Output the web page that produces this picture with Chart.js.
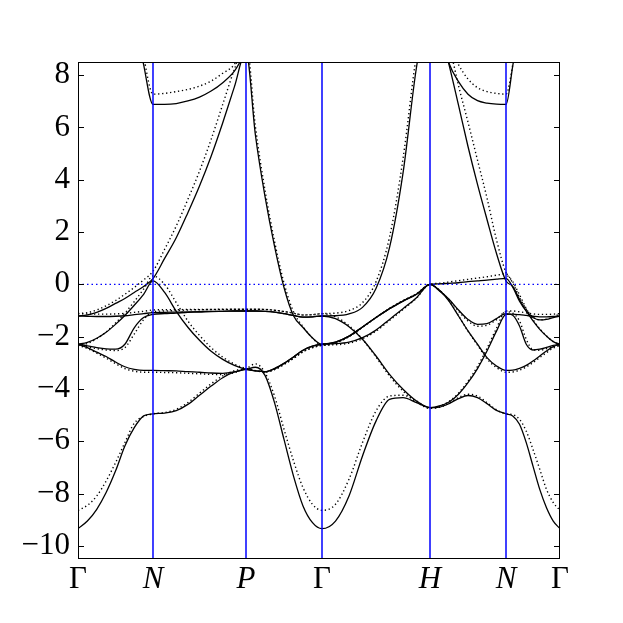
<!DOCTYPE html>
<html>
<head>
<meta charset="utf-8">
<script src="https://cdn.jsdelivr.net/npm/chart.js@4.4.1/dist/chart.umd.min.js"></script>
<style>
  html, body { margin: 0; padding: 0; background: #fff; }
  #bands { display: block; }
</style>
</head>
<body>
<canvas id="bands" width="623" height="623"></canvas>
<script>
// high-symmetry points along the path (distance units) and their labels
const kPoints = [0, 0.6944, 1.5556, 2.2593, 3.2593, 3.9630, 4.4630];
const kLabels = ['Γ', 'N', 'P', 'Γ', 'H', 'N', 'Γ'];
const yTicks = [-10, -8, -6, -4, -2, 0, 2, 4, 6, 8];
const samplesPerSegment = 8;

// energies, one row of 9 samples per path segment
// solid bands
const solid1 = [
  [-9.34, -9.05, -8.60, -7.96, -7.14, -6.18, -5.48, -5.03, -4.95],
  [-4.95, -4.92, -4.83, -4.59, -4.24, -3.89, -3.57, -3.35, -3.25],
  [-3.25, -3.17, -3.48, -4.52, -5.93, -7.33, -8.47, -9.11, -9.34],
  [-9.34, -9.05, -8.09, -6.56, -5.23, -4.40, -4.33, -4.52, -4.71],
  [-4.71, -4.69, -4.56, -4.37, -4.25, -4.33, -4.56, -4.82, -4.95],
  [-4.95, -5.03, -5.35, -6.05, -6.95, -7.84, -8.54, -9.05, -9.34]
];
const solid2 = [
  [-2.29, -2.42, -2.59, -2.76, -2.97, -3.15, -3.25, -3.29, -3.29],
  [-3.29, -3.30, -3.31, -3.34, -3.36, -3.39, -3.40, -3.35, -3.25],
  [-3.25, -3.31, -3.34, -3.22, -3.02, -2.78, -2.52, -2.36, -2.29],
  [-2.29, -2.27, -2.21, -2.04, -1.75, -1.34, -0.93, -0.51, 0.00],
  [0.00, -0.23, -0.64, -1.21, -1.78, -2.29, -2.80, -3.12, -3.29],
  [-3.29, -3.28, -3.21, -3.10, -2.93, -2.74, -2.55, -2.38, -2.29]
];
const solid3 = [
  [-2.29, -2.35, -2.42, -2.47, -2.48, -2.29, -1.66, -1.27, -1.15],
  [-1.15, -1.12, -1.10, -1.07, -1.06, -1.04, -1.03, -1.02, -1.02],
  [-1.02, -1.02, -1.03, -1.06, -1.12, -1.19, -1.25, -1.24, -1.21],
  [-1.21, -1.31, -1.62, -2.10, -2.74, -3.44, -4.01, -4.46, -4.71],
  [-4.71, -4.65, -4.50, -4.20, -3.76, -3.22, -2.55, -1.79, -1.15],
  [-1.15, -1.14, -1.16, -1.19, -1.22, -1.24, -1.24, -1.23, -1.21]
];
const solid4 = [
  [-1.21, -1.22, -1.23, -1.23, -1.22, -1.20, -1.16, -1.12, -1.08],
  [-1.08, -1.07, -1.06, -1.05, -1.04, -1.03, -1.03, -1.02, -1.02],
  [-1.02, -1.02, -1.03, -1.06, -1.12, -1.19, -1.25, -1.24, -1.21],
  [-1.21, -1.20, -1.13, -0.88, -0.16, 1.40, 4.25, 8.30, 10.8],
  [10.8, 9.80, 8.40, 6.85, 5.27, 3.82, 2.48, 1.18, 0.13],
  [0.13, -0.08, -0.57, -1.02, -1.40, -1.72, -1.98, -2.19, -2.29]
];
const solid5 = [
  [-2.29, -2.22, -2.06, -1.83, -1.53, -1.19, -0.80, -0.38, 0.13],
  [0.13, -0.31, -1.03, -1.64, -2.14, -2.56, -2.87, -3.10, -3.25],
  [-3.25, -3.31, -3.34, -3.22, -3.02, -2.78, -2.52, -2.36, -2.29],
  [-2.29, -2.21, -1.98, -1.63, -1.27, -0.93, -0.64, -0.38, 0.00],
  [0.00, -0.25, -0.57, -0.98, -1.34, -1.53, -1.50, -1.31, -1.12],
  [-1.12, -1.18, -1.59, -2.29, -2.51, -2.48, -2.41, -2.33, -2.29]
];
const solid6 = [
  [-1.21, -1.17, -1.07, -0.92, -0.73, -0.54, -0.31, -0.08, 0.22],
  [0.22, 0.99, 1.78, 2.74, 3.76, 4.90, 6.18, 7.55, 8.90],
  [8.90, 5.68, 3.36, 1.46, -0.12, -1.20, -1.65, -2.05, -2.29],
  [-2.29, -2.21, -1.98, -1.63, -1.27, -0.93, -0.64, -0.38, 0.00],
  [0.00, 0.02, 0.04, 0.06, 0.10, 0.13, 0.16, 0.20, 0.23],
  [0.23, -0.11, -0.64, -1.02, -1.27, -1.36, -1.34, -1.27, -1.21]
];
const solid7 = [
  [16.0, 15.5, 15.0, 14.0, 13.0, 11.8, 10.3, 8.40, 6.88],
  [6.88, 6.88, 6.91, 7.01, 7.16, 7.39, 7.71, 8.15, 8.90],
  [8.90, 9.40, 10.0, 10.6, 11.2, 11.6, 11.9, 12.0, 12.0],
  [12.0, 12.2, 12.4, 12.5, 12.5, 12.4, 12.2, 12.0, 11.8],
  [11.8, 9.80, 8.45, 7.75, 7.27, 7.02, 6.93, 6.89, 6.88],
  [6.88, 8.35, 10.0, 11.5, 12.5, 13.2, 13.6, 13.8, 14.0]
];

// dotted bands (second calculation)
const dotted1 = [
  [-8.64, -8.45, -8.09, -7.52, -6.82, -6.05, -5.31, -5.05, -4.95],
  [-4.95, -4.90, -4.78, -4.52, -4.16, -3.80, -3.50, -3.30, -3.22],
  [-3.22, -3.04, -3.38, -4.27, -5.54, -6.75, -7.77, -8.41, -8.64],
  [-8.64, -8.41, -7.45, -6.05, -4.84, -4.27, -4.24, -4.46, -4.74],
  [-4.74, -4.70, -4.55, -4.33, -4.20, -4.27, -4.52, -4.80, -4.95],
  [-4.95, -4.98, -5.16, -5.61, -6.31, -7.07, -7.84, -8.34, -8.64]
];
const dotted2 = [
  [-2.33, -2.45, -2.63, -2.82, -3.03, -3.22, -3.32, -3.36, -3.36],
  [-3.36, -3.37, -3.38, -3.40, -3.42, -3.44, -3.45, -3.38, -3.22],
  [-3.22, -3.30, -3.35, -3.26, -3.06, -2.83, -2.58, -2.42, -2.33],
  [-2.33, -2.31, -2.25, -2.08, -1.79, -1.38, -0.96, -0.53, 0.00],
  [0.00, -0.22, -0.62, -1.20, -1.79, -2.32, -2.85, -3.18, -3.36],
  [-3.36, -3.35, -3.28, -3.16, -2.99, -2.80, -2.61, -2.44, -2.33]
];
const dotted3 = [
  [-2.33, -2.39, -2.46, -2.51, -2.53, -2.42, -1.90, -1.35, -1.05],
  [-1.05, -1.02, -1.00, -0.98, -0.97, -0.96, -0.96, -0.95, -0.95],
  [-0.95, -0.95, -0.96, -0.99, -1.04, -1.10, -1.17, -1.16, -1.12],
  [-1.12, -1.24, -1.58, -2.10, -2.78, -3.50, -4.08, -4.50, -4.74],
  [-4.74, -4.66, -4.48, -4.16, -3.70, -3.14, -2.45, -1.68, -1.02],
  [-1.02, -1.02, -1.05, -1.09, -1.13, -1.15, -1.15, -1.14, -1.12]
];
const dotted4 = [
  [-1.12, -1.13, -1.14, -1.14, -1.13, -1.11, -1.07, -1.03, -0.98],
  [-0.98, -0.97, -0.97, -0.96, -0.96, -0.96, -0.95, -0.95, -0.95],
  [-0.95, -0.95, -0.96, -0.99, -1.04, -1.10, -1.17, -1.16, -1.12],
  [-1.12, -1.10, -1.00, -0.70, 0.10, 1.80, 4.80, 8.80, 11.5],
  [11.5, 10.6, 9.20, 7.60, 6.20, 4.75, 3.30, 1.70, 0.45],
  [0.45, 0.10, -0.40, -0.92, -1.35, -1.70, -1.97, -2.19, -2.33]
];
const dotted5 = [
  [-2.33, -2.26, -2.08, -1.82, -1.48, -1.10, -0.66, -0.18, 0.32],
  [0.32, 0.00, -0.70, -1.40, -1.95, -2.42, -2.78, -3.05, -3.22],
  [-3.22, -3.30, -3.35, -3.26, -3.06, -2.83, -2.58, -2.42, -2.33],
  [-2.33, -2.24, -2.00, -1.64, -1.27, -0.92, -0.62, -0.36, 0.00],
  [0.00, -0.24, -0.58, -1.02, -1.40, -1.60, -1.56, -1.35, -1.05],
  [-1.05, -1.10, -1.40, -2.10, -2.50, -2.52, -2.46, -2.39, -2.33]
];
const dotted6 = [
  [-1.12, -1.08, -0.98, -0.82, -0.62, -0.38, -0.12, 0.17, 0.50],
  [0.50, 1.34, 2.23, 3.25, 4.33, 5.54, 6.88, 8.22, 9.30],
  [9.30, 6.00, 3.60, 1.65, 0.05, -1.05, -1.62, -2.05, -2.33],
  [-2.33, -2.24, -2.00, -1.64, -1.27, -0.92, -0.62, -0.36, 0.00],
  [0.00, 0.04, 0.09, 0.14, 0.19, 0.24, 0.29, 0.35, 0.40],
  [0.40, 0.05, -0.50, -0.95, -1.25, -1.36, -1.33, -1.25, -1.12]
];
const dotted7 = [
  [16.0, 15.5, 15.0, 14.0, 13.0, 12.0, 10.5, 8.70, 7.27],
  [7.27, 7.30, 7.37, 7.45, 7.58, 7.77, 8.07, 8.41, 9.30],
  [9.30, 9.80, 10.3, 10.8, 11.3, 11.7, 12.0, 12.1, 12.1],
  [12.1, 12.3, 12.5, 12.6, 12.6, 12.5, 12.3, 12.1, 12.0],
  [12.0, 10.5, 9.20, 8.40, 7.85, 7.52, 7.37, 7.30, 7.27],
  [7.27, 8.40, 10.2, 11.6, 12.6, 13.3, 13.7, 13.9, 14.1]
];

const solidBands = [solid1, solid2, solid3, solid4, solid5, solid6, solid7];
const dottedBands = [dotted1, dotted2, dotted3, dotted4, dotted5, dotted6, dotted7];

// samples sit evenly inside each segment between two symmetry points
function toPoints(band) {
  const pts = [];
  band.forEach((seg, s) => {
    const k0 = kPoints[s], k1 = kPoints[s + 1];
    seg.forEach((e, j) => {
      if (s > 0 && j === 0) return;
      pts.push({ x: k0 + (k1 - k0) * j / samplesPerSegment, y: e });
    });
  });
  return pts;
}

const lineStyle = {
  borderColor: '#000',
  borderWidth: 1.3,
  pointRadius: 0,
  fill: false,
  cubicInterpolationMode: 'monotone'
};

const datasets = [
  ...dottedBands.map((b) => ({ ...lineStyle, data: toPoints(b), borderDash: [1.3, 2.7], borderWidth: 1.4 })),
  ...solidBands.map((b) => ({ ...lineStyle, data: toPoints(b) }))
];

// blue symmetry lines, Fermi level, frame and inward ticks
const framePlugin = {
  id: 'frame',
  afterDatasetsDraw(chart) {
    const { ctx, chartArea: a, scales: { x, y } } = chart;
    ctx.save();
    ctx.strokeStyle = '#0000ff';
    ctx.lineWidth = 1.5;
    kPoints.slice(1, -1).forEach((k) => {
      const px = x.getPixelForValue(k);
      ctx.beginPath();
      ctx.moveTo(px, a.top);
      ctx.lineTo(px, a.bottom);
      ctx.stroke();
    });
    const py = y.getPixelForValue(0);
    ctx.setLineDash([1.5, 3]);
    ctx.lineWidth = 1.4;
    ctx.beginPath();
    ctx.moveTo(a.left, py);
    ctx.lineTo(a.right, py);
    ctx.stroke();
    ctx.setLineDash([]);

    ctx.strokeStyle = '#000';
    ctx.lineWidth = 1;
    yTicks.forEach((v) => {
      const ty = Math.round(y.getPixelForValue(v)) + 0.5;
      ctx.beginPath();
      ctx.moveTo(a.left, ty);
      ctx.lineTo(a.left + 6, ty);
      ctx.moveTo(a.right, ty);
      ctx.lineTo(a.right - 6, ty);
      ctx.stroke();
    });
    ctx.strokeRect(a.left + 0.5, a.top + 0.5, a.right - a.left - 1, a.bottom - a.top - 1);
    ctx.restore();
  }
};

const ctx = document.getElementById('bands').getContext('2d');

new Chart(ctx, {
  type: 'line',
  data: { datasets },
  plugins: [framePlugin],
  options: {
    responsive: false,
    animation: false,
    devicePixelRatio: 1,
    layout: { padding: { top: 62, right: 63, left: 0, bottom: 0 } },
    plugins: { legend: { display: false }, tooltip: { enabled: false } },
    scales: {
      x: {
        type: 'linear',
        min: kPoints[0],
        max: kPoints[kPoints.length - 1],
        afterBuildTicks: (scale) => { scale.ticks = kPoints.map((v) => ({ value: v })); },
        afterFit: (scale) => { scale.height = 64; },
        grid: { display: false, drawTicks: false },
        border: { display: false },
        ticks: {
          autoSkip: false,
          maxRotation: 0,
          padding: 2,
          color: '#000',
          font: (c) => ({
            family: '"Liberation Serif", "Times New Roman", serif',
            size: 31,
            style: kLabels[c.index] === 'Γ' ? 'normal' : 'italic'
          }),
          callback: (value, index) => kLabels[index]
        }
      },
      y: {
        type: 'linear',
        min: -10.5,
        max: 8.5,
        afterBuildTicks: (scale) => { scale.ticks = yTicks.map((v) => ({ value: v })); },
        afterFit: (scale) => { scale.width = 78; },
        grid: { display: false, drawTicks: false },
        border: { display: false },
        ticks: {
          padding: 8,
          color: '#000',
          font: { family: '"Liberation Serif", "Times New Roman", serif', size: 31 },
          callback: (v) => (v < 0 ? '\u2212' + Math.abs(v) : String(v))
        }
      }
    }
  }
});
</script>
</body>
</html>
